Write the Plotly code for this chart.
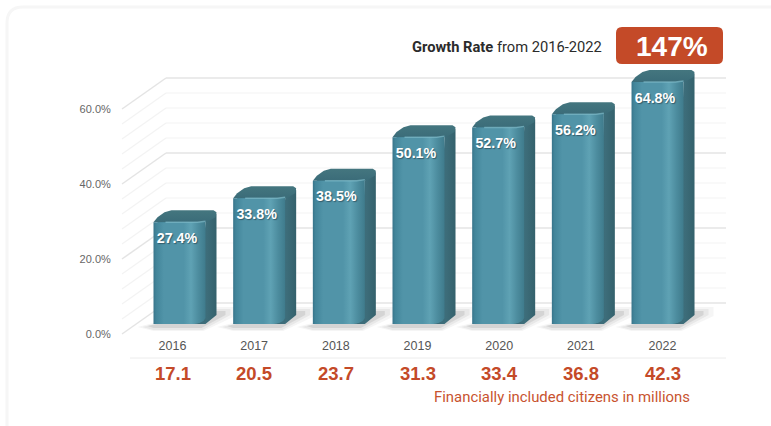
import plotly.graph_objects as go

# Financial inclusion figures, 2016-2022
years = [2016, 2017, 2018, 2019, 2020, 2021, 2022]
inclusion_rate = [27.4, 33.8, 38.5, 50.1, 52.7, 56.2, 64.8]
citizens_millions = [17.1, 20.5, 23.7, 31.3, 33.4, 36.8, 42.3]
y_tick_values = [0, 20, 40, 60]
y_tick_labels = ["0.0%", "20.0%", "40.0%", "60.0%"]
wall_levels = [0, 4, 8, 12, 16, 20, 24, 28, 32, 36, 40, 44, 48, 52, 56, 60]

W, H = 771, 426
TEAL_DARK = "#3c7d90"
BRICK = "#c44a28"

# Pixel scale of the two axes
PX_PER_YEAR = 79.67
PX_PER_PCT = 3.75
BAR_X0 = 179.5      # pixel centre of the first bar
BAR_Y0 = 324.0      # pixel baseline of the bars
LABEL_X0 = 172.5    # pixel centre of the first year label
LABEL_STEP = 81.67

PLOT_L, PLOT_R, PLOT_T, PLOT_B = 115, 745, 60, 341


def dx(px):
    return px / PX_PER_YEAR


def dy(px):
    return px / PX_PER_PCT


def px_to_x(px):
    return years[0] + (px - BAR_X0) / PX_PER_YEAR


def px_to_y(px):
    return (BAR_Y0 - px) / PX_PER_PCT


def px_to_label_x(px):
    return years[0] + (px - LABEL_X0) / LABEL_STEP


# The floor of the 3D box: front edge sits below the bars, back wall above them
FRONT_SHIFT = dy(-10)
BACK_SHIFT = dy(21)
WALL_LEFT, WALL_RIGHT, EDGE_LEFT = px_to_x(166), px_to_x(726), px_to_x(122)


def paper_x(px):
    return px / W


def paper_y(px):
    return 1 - px / H


def rounded_rect(x0, y0, x1, y1, r):
    return (
        f"M {paper_x(x0 + r)} {paper_y(y0)} L {paper_x(x1 - r)} {paper_y(y0)} "
        f"Q {paper_x(x1)} {paper_y(y0)} {paper_x(x1)} {paper_y(y0 + r)} "
        f"L {paper_x(x1)} {paper_y(y1 - r)} "
        f"Q {paper_x(x1)} {paper_y(y1)} {paper_x(x1 - r)} {paper_y(y1)} "
        f"L {paper_x(x0 + r)} {paper_y(y1)} "
        f"Q {paper_x(x0)} {paper_y(y1)} {paper_x(x0)} {paper_y(y1 - r)} "
        f"L {paper_x(x0)} {paper_y(y0 + r)} "
        f"Q {paper_x(x0)} {paper_y(y0)} {paper_x(x0 + r)} {paper_y(y0)} Z"
    )


shapes = [
    dict(type="path", xref="paper", yref="paper", layer="below",
         path=rounded_rect(7, 7, 790, 445, 16),
         fillcolor="white", line=dict(color="#f6f6f6", width=3)),
    dict(type="line", xref="paper", yref="paper", layer="below",
         x0=paper_x(130), x1=paper_x(726), y0=paper_y(358), y1=paper_y(358),
         line=dict(color="#ececec", width=1)),
]
for level in wall_levels:
    major = level % 20 == 0
    color = "#e4e4e4" if major else "#f3f3f3"
    width = 1.5 if major else 1.2
    shapes.append(dict(type="line", xref="x", yref="y", layer="below",
                       x0=WALL_LEFT, x1=WALL_RIGHT,
                       y0=level + BACK_SHIFT, y1=level + BACK_SHIFT,
                       line=dict(color=color, width=width)))
    shapes.append(dict(type="line", xref="x", yref="y", layer="below",
                       x0=EDGE_LEFT, x1=WALL_LEFT,
                       y0=level + FRONT_SHIFT, y1=level + BACK_SHIFT,
                       line=dict(color=color, width=width)))

fig = go.Figure()

# Solid core of each bar; the shaded faces are layered over it
fig.add_trace(go.Bar(
    x=years, y=inclusion_rate, width=dx(44), marker=dict(color=TEAL_DARK, line_width=0),
    hoverinfo="skip", showlegend=False,
))


def polygon(year, value, points):
    """Turn (pixel offset right, pixel offset up) pairs into data coordinates.

    Each pair is anchored to the bar's centre; `base` points stay on the floor,
    `top` points follow the bar's value.
    """
    xs, ys = [], []
    for off_x, off_y, anchor in points:
        xs.append(year + dx(off_x))
        ys.append((value if anchor == "top" else 0) + dy(off_y))
    return xs, ys


# Soft floor shadow, widest layer first
SHADOWS = [
    ([(-42, -3, "base"), (-26, -7, "base"), (24, -7, "base"), (56, 8, "base"),
      (56, 17, "base"), (37, 17, "base")], "rgba(120,120,120,0.07)"),
    ([(-37, -3, "base"), (-26, -6, "base"), (23, -6, "base"), (51, 9, "base"),
      (51, 15, "base"), (37, 15, "base")], "rgba(120,120,120,0.10)"),
    ([(-32, -2, "base"), (-26, -4, "base"), (22, -4, "base"), (46, 9, "base"),
      (46, 13, "base"), (37, 13, "base")], "rgba(110,110,110,0.16)"),
]
SIDE = [(26, -1, "top"), (32, 4, "top"), (36, 9, "top"), (37, 7, "top"),
        (37, 9, "base"), (30, 3, "base"), (26, 0, "base"), (18, 0, "base")]
TOP = [(-26, -1, "top"), (-22, 4, "top"), (-15, 9, "top"), (-8, 11, "top"), (34, 11, "top"),
       (37, 9, "top"), (36, 4, "top"), (27, -1, "top"), (24, -1, "top")]
FRONT = [(-26, 0, "base"), (-26, -1, "top"), (-22, -1, "top"), (18, -1, "top"), (26, 0, "top"),
         (26, 6, "base"), (24, 3, "base"), (20, 1, "base"), (15, 0, "base")]
HIGHLIGHT = [(-14, -1, "top"), (18, -1, "top"), (26, 0, "top")]

FRONT_SHADES = [[0, "#38748a"], [0.05, "#42859a"], [0.2, "#5194a8"], [0.58, "#5194a8"],
                [0.72, "#5fa2b4"], [0.86, "#4d8d9f"], [1, "#3f7b8c"]]
SIDE_SHADES = [[0, "#3b6c79"], [0.5, "#3d6d7a"], [1, "#34616c"]]
TOP_SHADES = [[0, "#3b6c79"], [1, "#44767f"]]

for year, value in zip(years, inclusion_rate):
    for outline, tint in SHADOWS:
        xs, ys = polygon(year, value, outline)
        fig.add_trace(go.Scatter(x=xs, y=ys, mode="lines", line_width=0, fill="toself",
                                 fillcolor=tint, hoverinfo="skip", showlegend=False))
    for outline, shades, kind in ((SIDE, SIDE_SHADES, "horizontal"), (TOP, TOP_SHADES, "vertical"),
                                  (FRONT, FRONT_SHADES, "horizontal")):
        xs, ys = polygon(year, value, outline)
        fig.add_trace(go.Scatter(x=xs, y=ys, mode="lines", line_width=0, fill="toself",
                                 fillgradient=dict(type=kind, colorscale=shades),
                                 hoverinfo="skip", showlegend=False))
    xs, ys = polygon(year, value, HIGHLIGHT)
    fig.add_trace(go.Scatter(x=xs, y=ys, mode="lines", hoverinfo="skip", showlegend=False,
                             line=dict(color="rgba(130,190,205,0.65)", width=1.5)))

# Value labels inside the bars
fig.add_trace(go.Scatter(
    x=[y + dx(-2.5) for y in years], y=[v + dy(-18) for v in inclusion_rate],
    mode="text", text=[f"{v:.1f}%" for v in inclusion_rate],
    textfont=dict(family="Liberation Sans", size=14.3, color="white", weight="bold",
                  shadow="1px 1px 1px rgba(30,50,60,0.55)"),
    hoverinfo="skip", showlegend=False,
))

# Invisible trace that keeps the year axis drawn
fig.add_trace(go.Scatter(x=years, y=[0] * len(years), xaxis="x2", mode="none",
                         hoverinfo="skip", showlegend=False))

shapes.append(dict(type="path", xref="paper", yref="paper", layer="above",
                   path=rounded_rect(616, 27, 723, 64, 6), fillcolor=BRICK, line_width=0))

annotations = [
    dict(xref="paper", yref="paper", x=paper_x(410), y=paper_y(47), xanchor="left", yanchor="middle",
         text="<b>Growth Rate</b> from 2016-2022", showarrow=False,
         font=dict(family="Roboto", size=14.7, color="#2b2b2b")),
    dict(xref="paper", yref="paper", x=paper_x(672), y=paper_y(46.5), xanchor="center", yanchor="middle",
         text="<b>147%</b>", showarrow=False,
         font=dict(family="Liberation Sans", size=28, color="white")),
    dict(xref="paper", yref="paper", x=paper_x(692), y=paper_y(397), xanchor="right", yanchor="middle",
         text="Financially included citizens in millions", showarrow=False,
         font=dict(family="Roboto", size=14.9, color="#c8532f")),
]

# Citizen counts in the row under the year labels
for year, count in zip(years, citizens_millions):
    annotations.append(dict(
        xref="x2", yref="paper", x=year, y=paper_y(373.5), xanchor="center", yanchor="middle",
        text=f"<b>{count:.1f}</b>", showarrow=False,
        font=dict(family="Liberation Sans", size=18.5, color=BRICK),
    ))

fig.update_layout(
    width=W, height=H, margin=dict(l=0, r=0, t=0, b=0), autosize=False,
    paper_bgcolor="white", plot_bgcolor="rgba(0,0,0,0)", showlegend=False,
    shapes=shapes, annotations=annotations,
    xaxis=dict(domain=[paper_x(PLOT_L), paper_x(PLOT_R)],
               range=[px_to_x(PLOT_L), px_to_x(PLOT_R)], visible=False, fixedrange=True),
    xaxis2=dict(domain=[paper_x(PLOT_L), paper_x(PLOT_R)], overlaying="x", anchor="y",
                range=[px_to_label_x(PLOT_L), px_to_label_x(PLOT_R)],
                tickmode="array", tickvals=years, ticktext=[str(y) for y in years],
                showgrid=False, zeroline=False, showline=False, ticks="",
                tickfont=dict(family="Liberation Sans", size=12.5, color="#555555"),
                ticklabelstandoff=-5, side="bottom", fixedrange=True),
    yaxis=dict(domain=[paper_y(PLOT_B), paper_y(PLOT_T)],
               range=[px_to_y(PLOT_B), px_to_y(PLOT_T)],
               tickmode="array", tickvals=[v + FRONT_SHIFT for v in y_tick_values],
               ticktext=y_tick_labels, showgrid=False, zeroline=False, showline=False,
               ticks="outside", ticklen=1, tickcolor="rgba(0,0,0,0)",
               tickfont=dict(family="Liberation Sans", size=11, color="#666666"),
               fixedrange=True),
)

fig.write_html("out.html", config=dict(displayModeBar=False))
